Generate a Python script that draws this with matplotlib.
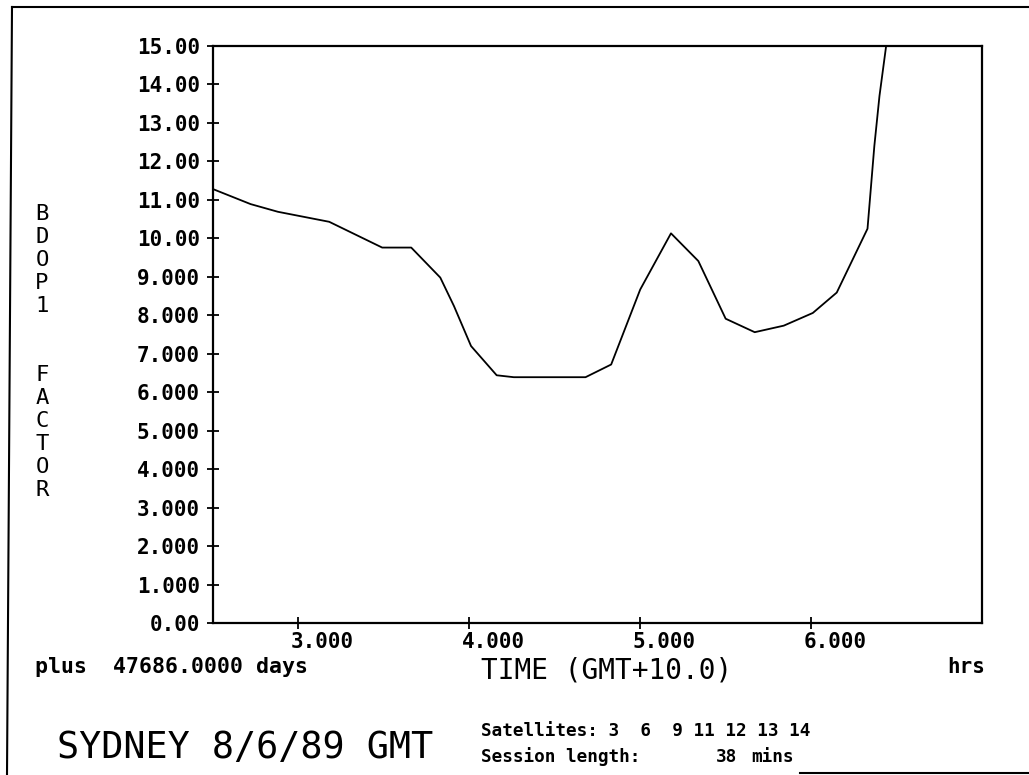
import matplotlib.pyplot as plt
from matplotlib.lines import Line2D
from matplotlib.transforms import ScaledTranslation

# BDOP factor over the session (hours, GMT+10)
time_hrs = [2.50, 2.72, 2.88, 3.18, 3.49, 3.66, 3.83, 3.91, 4.01, 4.16, 4.26,
            4.68, 4.83, 5.00, 5.18, 5.34, 5.50, 5.67, 5.84, 6.01, 6.15, 6.33,
            6.37, 6.40, 6.445]
bdop = [11.28, 10.89, 10.69, 10.43, 9.76, 9.76, 8.98, 8.24, 7.20, 6.44, 6.39,
        6.39, 6.72, 8.67, 10.13, 9.41, 7.91, 7.56, 7.73, 8.06, 8.59, 10.25,
        12.40, 13.70, 15.20]

x_ticks = [3, 4, 5, 6]
x_labels = ['3.000', '4.000', '5.000', '6.000']
y_ticks = list(range(16))
y_labels = ['0.00', '1.000', '2.000', '3.000', '4.000', '5.000', '6.000',
            '7.000', '8.000', '9.000', '10.00', '11.00', '12.00', '13.00',
            '14.00', '15.00']

W, H = 1029, 775
mono = 'DejaVu Sans Mono'


def fx(x):
    return x / W


def fy(y):
    return 1 - y / H


fig = plt.figure(figsize=(W / 100, H / 100), dpi=100)
ax = fig.add_axes([fx(213), fy(623), fx(982) - fx(213), fy(46) - fy(623)])

ax.plot(time_hrs, bdop, color='black', lw=1.3)
ax.set_xlim(2.5, 7.0)
ax.set_ylim(0, 15)

ax.set_xticks(x_ticks)
ax.set_xticklabels(x_labels)
ax.set_yticks(y_ticks)
ax.set_yticklabels(y_labels)
ax.tick_params(direction='inout', length=9, width=1.3)
ax.tick_params(axis='y', pad=5)
ax.tick_params(axis='x', pad=2)
for lab in ax.get_xticklabels() + ax.get_yticklabels():
    lab.set_fontfamily(mono)
    lab.set_fontweight('bold')
    lab.set_fontsize(15)
# x labels sit to the right of their ticks
shift = ScaledTranslation(0.24, 0, fig.dpi_scale_trans)
for lab in ax.get_xticklabels():
    lab.set_transform(lab.get_transform() + shift)
for s in ax.spines.values():
    s.set_linewidth(1.6)

# stacked vertical axis title
ylab = 'BDOP1  FACTOR'
for i, ch in enumerate(ylab):
    fig.text(fx(42), fy(214 + 23 * i), ch, family=mono, fontsize=16,
             ha='center', va='center')

fig.text(fx(35), fy(667), 'plus  47686.0000 days', family=mono,
         fontweight='bold', fontsize=15.5, ha='left', va='center')
fig.text(fx(607), fy(670), 'TIME (GMT+10.0)', family=mono, fontsize=20,
         ha='center', va='center')
fig.text(fx(966), fy(667), 'hrs', family=mono, fontweight='bold',
         fontsize=15, ha='center', va='center')

fig.text(fx(57), fy(747), 'SYDNEY 8/6/89 GMT', family=mono, fontsize=26.5,
         ha='left', va='center')
fig.text(fx(481), fy(731), 'Satellites: 3  6  9 11 12 13 14', family=mono,
         fontweight='bold', fontsize=12.7, ha='left', va='center')
fig.text(fx(481), fy(757), 'Session length:', family=mono,
         fontweight='bold', fontsize=12.7, ha='left', va='center')
fig.text(fx(716), fy(757), '38', family=mono, fontweight='bold',
         fontsize=12.7, ha='left', va='center')
fig.text(fx(751), fy(757), 'mins', family=mono, fontweight='bold',
         fontsize=12.7, ha='left', va='center')

# page frame
fig.add_artist(Line2D([fx(12), fx(1029)], [fy(7), fy(7)], color='black', lw=1.5))
fig.add_artist(Line2D([fx(12), fx(7)], [fy(7), fy(775)], color='black', lw=1.5))
fig.add_artist(Line2D([fx(800), fx(1029)], [fy(773), fy(773)], color='black', lw=1.5))

fig.savefig('out.png', dpi=100)
